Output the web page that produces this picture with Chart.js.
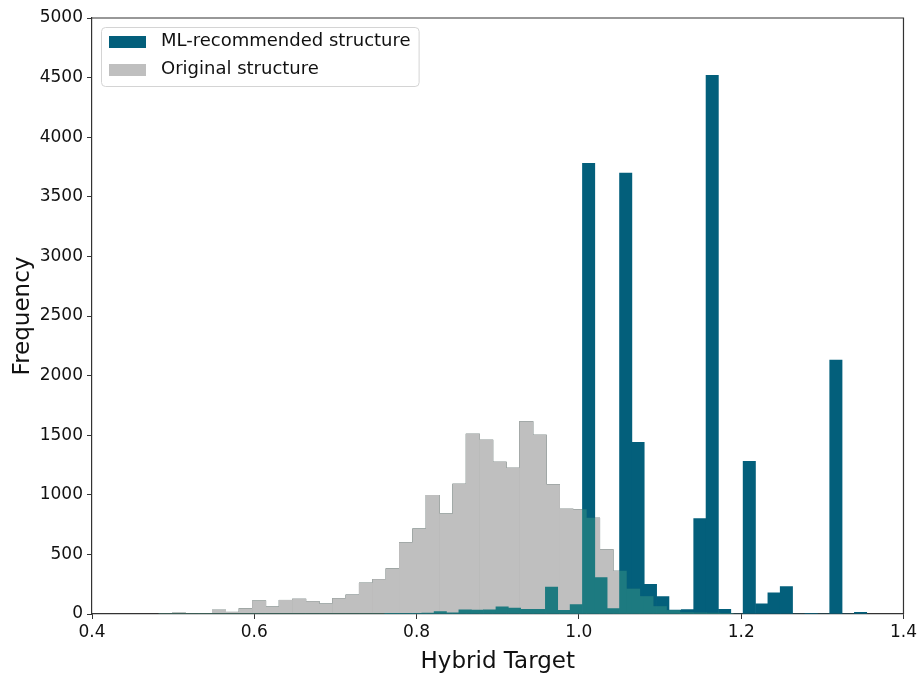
<!DOCTYPE html>
<html>
<head>
<meta charset="utf-8">
<script src="https://cdn.jsdelivr.net/npm/chart.js@4/dist/chart.umd.min.js"></script>
<style>
  html, body { margin: 0; padding: 0; background: #fff; }
  #wrap { width: 920px; height: 680px; }
</style>
</head>
<body>
<div id="wrap"><canvas id="myChart" width="920" height="680"></canvas></div>
<script>
// bin centres and counts
const greyBins = [0.49066, 0.50713, 0.52359, 0.54005, 0.55651, 0.57297, 0.58944, 0.60590, 0.62236, 0.63882,
    0.65528, 0.67175, 0.68821, 0.70467, 0.72113, 0.73759, 0.75406, 0.77052, 0.78698, 0.80344,
    0.81990, 0.83637, 0.85283, 0.86929, 0.88575, 0.90221, 0.91868, 0.93514, 0.95160, 0.96806,
    0.98452, 1.00099, 1.01745, 1.03391, 1.05037, 1.06683, 1.08330, 1.09976, 1.11622, 1.13268,
    1.14914, 1.16561, 1.18207];
const greyCounts = [5, 8, 3, 3, 33, 15, 45, 110, 60, 115,
    125, 105, 85, 130, 160, 260, 290, 380, 600, 715,
    995, 840, 1090, 1510, 1460, 1275, 1225, 1615, 1500, 1085,
    880, 875, 805, 540, 360, 210, 147, 63, 30, 12,
    10, 8, 5];

const mlBins = [0.7683, 0.7835, 0.7987, 0.8140, 0.8292, 0.8444, 0.8597, 0.8749, 0.8901, 0.9054,
    0.9206, 0.9358, 0.9511, 0.9663, 0.9815, 0.9968, 1.0120, 1.0272, 1.0425, 1.0577,
    1.0729, 1.0882, 1.1034, 1.1186, 1.1339, 1.1491, 1.1643, 1.1796, 1.1948, 1.2100,
    1.2253, 1.2405, 1.2557, 1.2710, 1.2862, 1.3014, 1.3167, 1.3319, 1.3471];
const mlCounts = [3, 3, 3, 8, 20, 10, 35, 32, 35, 60,
    50, 40, 40, 225, 30, 80, 3780, 305, 45, 3700,
    1440, 248, 147, 32, 38, 800, 4520, 40, 0, 1280,
    85, 178, 230, 0, 5, 0, 2130, 0, 15];

const seriesNames = ["ML-recommended structure", "Original structure"];
const xRange = [0.4, 1.4];
const yRange = [0, 5000];

const FONT = "'DejaVu Sans', sans-serif";
const AXIS_COLOR = "#333";
const ML_COLOR = "#035f7b";
const GREY_LEGEND = "rgba(128, 128, 128, 0.5)";
const LEGEND_FONT = 18;
const LEGEND_PAD = 10;

// legend patch 37x12 drawn as an image point style (leaves a wider gap before the text)
function patch(color) {
    const c = document.createElement("canvas");
    c.width = 37;
    c.height = 12;
    const g = c.getContext("2d");
    g.fillStyle = color;
    g.fillRect(0, 0, c.width, c.height);
    return c;
}
const legendPatches = [patch(ML_COLOR), patch(GREY_LEGEND)];

// The grey histogram is drawn on its own layer and blended in two passes
// (multiply + screen): light grey over white, lighter teal where it covers the blue bars.
const layerPlugin = {
    id: "greyLayer",
    beforeDatasetDraw(chart, args) {
        if (args.index !== 1) return;
        const c = chart.canvas;
        if (!this._off) this._off = document.createElement("canvas");
        this._off.width = c.width;
        this._off.height = c.height;
        args.meta.controller._ctx = this._off.getContext("2d");
    },
    afterDatasetDraw(chart, args) {
        if (args.index !== 1) return;
        args.meta.controller._ctx = chart.ctx;
        const off = this._off;
        const oc = off.getContext("2d");
        const ctx = chart.ctx;
        const pass = (tint, mode) => {
            oc.save();
            oc.setTransform(1, 0, 0, 1, 0, 0);
            oc.globalCompositeOperation = "source-in";
            oc.fillStyle = tint;
            oc.fillRect(0, 0, off.width, off.height);
            oc.restore();
            ctx.save();
            ctx.setTransform(1, 0, 0, 1, 0, 0);
            ctx.globalCompositeOperation = mode;
            ctx.drawImage(off, 0, 0);
            ctx.restore();
        };
        pass("rgb(184, 161, 167)", "multiply");
        pass("rgb(26, 81, 69)", "screen");
    }
};

// top/right spines + legend frame
const framePlugin = {
    id: "frame",
    afterLayout(chart) {
        const lg = chart.legend;
        const a = chart.chartArea;
        lg.left = a.left + 1;
        lg.top = a.top + 4.5;
        lg.right = lg.left + lg.width;
        lg.height = 200;
        lg.bottom = lg.top + lg.height;
    },
    afterDraw(chart) {
        const ctx = chart.ctx;
        const a = chart.chartArea;
        ctx.save();
        ctx.strokeStyle = AXIS_COLOR;
        ctx.lineWidth = 1.2;
        ctx.beginPath();
        ctx.moveTo(a.left, a.top);
        ctx.lineTo(a.right, a.top);
        ctx.lineTo(a.right, a.bottom);
        ctx.stroke();

        const lg = chart.legend;
        let maxW = 0;
        lg.legendHitBoxes.forEach(b => { maxW = Math.max(maxW, b.width); });
        const rowH = LEGEND_FONT + LEGEND_PAD;
        const x0 = lg.left + 8, y0 = lg.top + 4.5;
        const x1 = lg.left + LEGEND_PAD + maxW + 8;
        const y1 = lg.top + LEGEND_PAD + rowH + LEGEND_FONT + 7.5;
        ctx.strokeStyle = "#d4d4d4";
        ctx.lineWidth = 1;
        ctx.beginPath();
        ctx.roundRect(x0 + 0.5, y0 + 0.5, x1 - x0, y1 - y0, 4);
        ctx.stroke();
        ctx.restore();
    }
};

const ctx = document.getElementById("myChart").getContext("2d");
new Chart(ctx, {
    type: "bar",
    data: {
        datasets: [{
            label: seriesNames[0],
            data: mlBins.map((x, i) => ({x: x, y: mlCounts[i]})),
            backgroundColor: ML_COLOR,
            borderWidth: 0,
            xAxisID: "x2",
            order: 1,
        }, {
            label: seriesNames[1],
            data: greyBins.map((x, i) => ({x: x, y: greyCounts[i]})),
            backgroundColor: "#000",
            borderWidth: 0,
            xAxisID: "x",
            order: 0,
        }],
    },
    options: {
        responsive: false,
        animation: false,
        layout: { padding: { top: 18, right: 14, bottom: 0, left: 0 } },
        datasets: {
            bar: { grouped: false, barPercentage: 1, categoryPercentage: 1 },
        },
        plugins: {
            tooltip: { enabled: false },
            legend: {
                position: "chartArea",
                align: "start",
                labels: {
                    usePointStyle: true,
                    pointStyleWidth: 49,
                    boxHeight: 12,
                    padding: LEGEND_PAD,
                    color: "#111",
                    font: { family: FONT, size: LEGEND_FONT },
                    sort: (a, b) => a.datasetIndex - b.datasetIndex,
                    generateLabels: chart => {
                        const items = Chart.defaults.plugins.legend.labels.generateLabels(chart);
                        items.forEach(it => {
                            it.pointStyle = legendPatches[it.datasetIndex];
                            it.lineWidth = 0;
                        });
                        return items;
                    },
                },
            },
        },
        scales: {
            x: {
                type: "linear",
                offset: false,
                min: xRange[0],
                max: xRange[1],
                afterFit: s => { s.height = 66; },
                ticks: {
                    stepSize: 0.2,
                    padding: 3,
                    color: "#111",
                    font: { family: FONT, size: 17 },
                    maxRotation: 0,
                    callback: v => Number(v).toFixed(1),
                },
                grid: { display: true, offset: false, drawOnChartArea: false, drawTicks: true, tickLength: 5, color: AXIS_COLOR },
                border: { display: true, color: AXIS_COLOR, width: 1.2 },
                title: {
                    display: true,
                    text: "Hybrid Target",
                    color: "#111",
                    font: { family: FONT, size: 23 },
                    padding: { top: 0, bottom: 4 },
                },
            },
            x2: {
                type: "linear",
                display: false,
                offset: false,
                min: xRange[0],
                max: xRange[1],
            },
            y: {
                min: yRange[0],
                max: yRange[1],
                afterFit: s => { s.width = 92; },
                ticks: {
                    stepSize: 500,
                    padding: 4,
                    color: "#111",
                    font: { family: FONT, size: 17 },
                    callback: v => String(v),
                },
                grid: { display: true, drawOnChartArea: false, drawTicks: true, tickLength: 5, color: AXIS_COLOR },
                border: { display: true, color: AXIS_COLOR, width: 1.2 },
                title: {
                    display: true,
                    text: "Frequency",
                    color: "#111",
                    font: { family: FONT, size: 23 },
                    padding: { top: 9, bottom: 0 },
                },
            },
        },
    },
    plugins: [layerPlugin, framePlugin],
});
</script>
</body>
</html>
